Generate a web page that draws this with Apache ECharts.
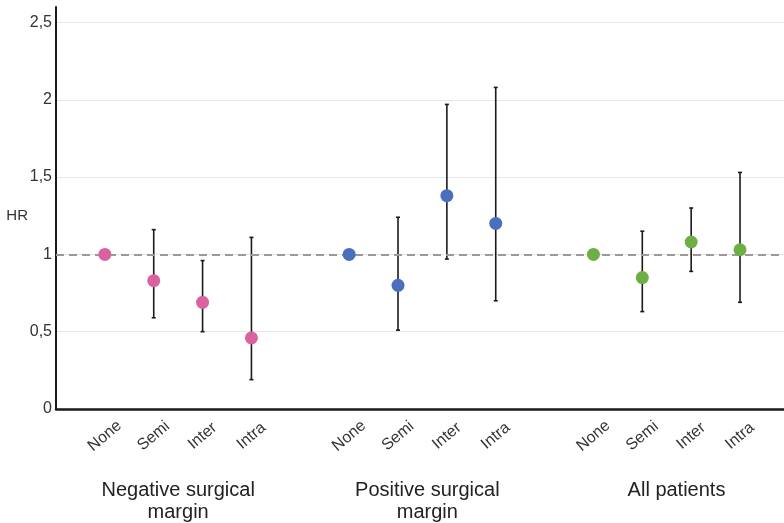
<!DOCTYPE html>
<html>
<head>
<meta charset="utf-8">
<script src="https://cdn.jsdelivr.net/npm/echarts@6/dist/echarts.min.js"></script>
<style>html,body{margin:0;padding:0;background:#fff}#c{width:784px;height:523px}</style>
</head>
<body>
<div id="c"></div>
<script>
// ---- data ----
const groupNames = ['Negative surgical\nmargin', 'Positive surgical\nmargin', 'All patients'];
const typeNames = ['None', 'Semi', 'Inter', 'Intra'];
const yTicks = [0, 0.5, 1, 1.5, 2, 2.5];

const hrNeg   = [1.00, 0.83, 0.69, 0.46];
const lowNeg  = [null, 0.59, 0.50, 0.19];
const highNeg = [null, 1.16, 0.96, 1.11];

const hrPos   = [1.00, 0.80, 1.38, 1.20];
const lowPos  = [null, 0.51, 0.97, 0.70];
const highPos = [null, 1.24, 1.97, 2.08];

const hrAll   = [1.00, 0.85, 1.08, 1.03];
const lowAll  = [null, 0.63, 0.89, 0.69];
const highAll = [null, 1.15, 1.30, 1.53];

const colors = ['#D9629F', '#4A6FBF', '#6DAE45'];
// ----------------

const hrSets = [hrNeg, hrPos, hrAll];
const lowSets = [lowNeg, lowPos, lowAll];
const highSets = [highNeg, highPos, highAll];

const pos = (g, t) => g * 5 + t + 1;
const labelMap = {};
const labelPositions = [];
groupNames.forEach((gname, g) => typeNames.forEach((tn, t) => { labelMap[pos(g, t)] = tn; labelPositions.push(pos(g, t)); }));
// group caption anchors (layout): centred under each group, nudged like the original
const groupShift = [0, 0.1, 0.2];
const groupCenters = groupNames.map((_, g) => g * 5 + 2.5 + groupShift[g]);
const groupMap = {};
groupCenters.forEach((c, g) => groupMap[c] = groupNames[g]);

const font = 'Liberation Sans, Arial, sans-serif';

const series = [];
hrSets.forEach((hr, g) => {
  const errData = [];
  hr.forEach((v, t) => {
    if (lowSets[g][t] != null) errData.push([pos(g, t), lowSets[g][t], highSets[g][t]]);
  });
  series.push({
    type: 'custom',
    xAxisIndex: 0,
    z: 2,
    silent: true,
    renderItem: function (params, api) {
      const x = api.value(0);
      const lo = api.coord([x, api.value(1)]);
      const hi = api.coord([x, api.value(2)]);
      const cw = 2;
      const st = { stroke: '#1a1a1a', lineWidth: 1.6 };
      return {
        type: 'group',
        children: [
          { type: 'line', shape: { x1: lo[0], y1: lo[1], x2: hi[0], y2: hi[1] }, style: st },
          { type: 'line', shape: { x1: lo[0] - cw, y1: lo[1], x2: lo[0] + cw, y2: lo[1] }, style: st },
          { type: 'line', shape: { x1: hi[0] - cw, y1: hi[1], x2: hi[0] + cw, y2: hi[1] }, style: st }
        ]
      };
    },
    encode: { x: 0, y: [1, 2] },
    data: errData
  });
  series.push({
    type: 'scatter',
    xAxisIndex: 0,
    z: 5,
    symbolSize: 13,
    itemStyle: { color: colors[g], opacity: 1 },
    data: hr.map((v, t) => [pos(g, t), v])
  });
});
// reference line at HR = 1
series.push({
  type: 'line',
  xAxisIndex: 0,
  data: [],
  markLine: {
    silent: true,
    symbol: 'none',
    label: { show: false },
    lineStyle: { color: '#9a9a9a', type: [8, 5], width: 2 },
    data: [{ yAxis: 1 }]
  },
  z: 1
});

const chart = echarts.init(document.getElementById('c'), null, { renderer: 'canvas' });
chart.setOption({
  animation: false,
  backgroundColor: '#fff',
  grid: { left: 56, right: 0, top: 7, bottom: 113, containLabel: false },
  xAxis: [{
    type: 'value', min: 0, max: 14.9,
    axisLine: { show: true, lineStyle: { color: '#1a1a1a', width: 2.5 } },
    axisTick: { show: false },
    splitLine: { show: false },
    axisLabel: {
      customValues: labelPositions,
      rotate: 40, margin: 27, align: 'center', verticalAlign: 'middle',
      fontSize: 16, color: '#333', fontFamily: font,
      formatter: v => labelMap[v] || ''
    }
  }, {
    type: 'value', min: 0, max: 14.9, position: 'bottom',
    axisLine: { show: false }, axisTick: { show: false }, splitLine: { show: false },
    axisLabel: {
      customValues: groupCenters,
      margin: 70,
      fontSize: 20, lineHeight: 22, color: '#222', fontFamily: font,
      formatter: v => groupMap[v] || ''
    }
  }],
  yAxis: {
    type: 'value', min: 0, max: 2.6, interval: 0.5,
    name: 'HR', nameLocation: 'middle', nameRotate: 0, nameGap: 28,
    nameMoveOverlap: false,
    nameTextStyle: { fontSize: 15, color: '#333', fontFamily: font, verticalAlign: 'top' },
    axisLine: { show: true, lineStyle: { color: '#1a1a1a', width: 2 } },
    axisTick: { show: false },
    splitLine: { show: true, showMaxLine: false, lineStyle: { color: '#e6e6e6', width: 1 } },
    axisLabel: {
      showMaxLabel: false,
      fontSize: 16, color: '#333', fontFamily: font, margin: 4,
      formatter: v => String(v).replace('.', ',')
    }
  },
  series: series
});
</script>
</body>
</html>
